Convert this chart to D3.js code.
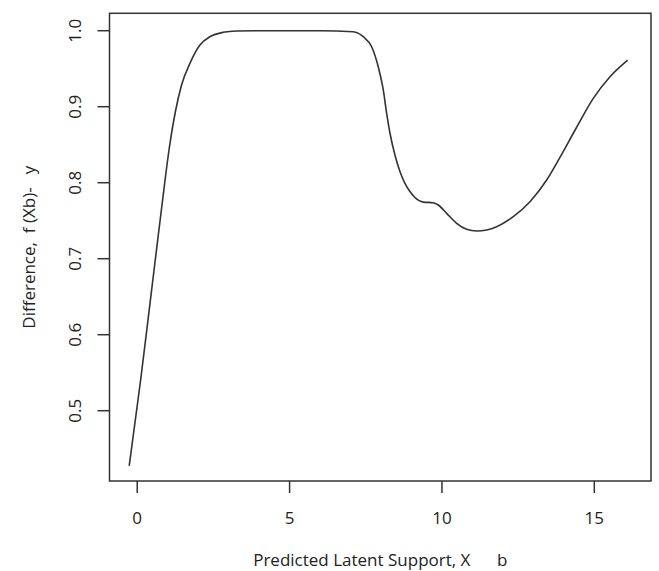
<!DOCTYPE html>
<html>
<head>
<meta charset="utf-8">
<script src="https://cdn.jsdelivr.net/npm/d3@7"></script>
<style>
  body { margin: 0; background: #fff; }
  text { font-family: "Open Sans", "Noto Sans", sans-serif; fill: #222; }
</style>
</head>
<body>
<script>
const width = 659, height = 571;

// curve
const xs = [-0.263, 0.112, 0.433, 0.81, 1.05, 1.25, 1.45, 1.729, 2.057, 2.385, 2.822, 3.262, 4, 5, 6,
  7.089, 7.417, 7.693, 7.909, 8.074, 8.185, 8.293, 8.457, 8.621, 8.785, 8.949, 9.113, 9.386, 9.714, 9.879,
  10.154, 10.482, 10.811, 11.139, 11.467, 11.795, 12.34, 12.888, 13.436, 13.873, 14.397,
  14.966, 15.514, 16.094];
const ys = [0.4273, 0.5404, 0.6457, 0.77, 0.845, 0.893, 0.928, 0.9571, 0.9812, 0.9921, 0.9979, 0.9996, 1.0, 1.0, 1.0,
  0.9987, 0.9921, 0.9789, 0.9526, 0.922, 0.8913, 0.8654, 0.8364, 0.8147, 0.799, 0.7884, 0.7805, 0.7745, 0.7737, 0.7707,
  0.7597, 0.7466, 0.7387, 0.7364, 0.7378, 0.7421, 0.7553, 0.775, 0.8036, 0.8334, 0.8713,
  0.911, 0.9395, 0.9614];
const xTicks = [0, 5, 10, 15];
const yTicks = [0.5, 0.6, 0.7, 0.8, 0.9, 1.0];

const pLeft = 109.5, pRight = 651, pTop = 13.3, pBottom = 481;

const x = d3.scaleLinear().domain([-0.91, 16.86]).range([pLeft, pRight]);
const y = d3.scaleLinear().domain([0.4075, 1.0229]).range([pBottom, pTop]);

const svg = d3.select("body").append("svg")
    .attr("width", width)
    .attr("height", height);

const data = xs.map((d, i) => [d, ys[i]]);

svg.append("path")
    .datum(data)
    .attr("fill", "none")
    .attr("stroke", "#333")
    .attr("stroke-width", 1.6)
    .attr("d", d3.line().x(d => x(d[0])).y(d => y(d[1])).curve(d3.curveMonotoneX));

// box
svg.append("rect")
    .attr("x", pLeft)
    .attr("y", pTop)
    .attr("width", pRight - pLeft)
    .attr("height", pBottom - pTop)
    .attr("fill", "none")
    .attr("stroke", "#333")
    .attr("stroke-width", 1.5);

// x axis
svg.selectAll(".xt")
    .data(xTicks)
    .join("line")
    .attr("x1", d => x(d)).attr("x2", d => x(d))
    .attr("y1", pBottom).attr("y2", pBottom + 12)
    .attr("stroke", "#333").attr("stroke-width", 1.5);

svg.selectAll(".xl")
    .data(xTicks)
    .join("text")
    .attr("x", d => x(d))
    .attr("y", 524)
    .attr("text-anchor", "middle")
    .attr("font-size", 17)
    .text(d => d);

// y axis
svg.selectAll(".yt")
    .data(yTicks)
    .join("line")
    .attr("x1", pLeft - 12).attr("x2", pLeft)
    .attr("y1", d => y(d)).attr("y2", d => y(d))
    .attr("stroke", "#333").attr("stroke-width", 1.5);

svg.selectAll(".yl")
    .data(yTicks)
    .join("text")
    .attr("transform", d => `translate(81,${y(d)}) rotate(-90)`)
    .attr("text-anchor", "middle")
    .attr("font-size", 17)
    .text(d => d.toFixed(1));

svg.append("text")
    .attr("x", (pLeft + pRight) / 2)
    .attr("y", 566)
    .attr("text-anchor", "middle")
    .attr("font-size", 17)
    .style("white-space", "pre")
    .text("Predicted Latent Support, X      b");

svg.append("text")
    .attr("transform", `translate(35,${(pTop + pBottom) / 2}) rotate(-90)`)
    .attr("text-anchor", "middle")
    .attr("font-size", 17)
    .style("white-space", "pre")
    .text("Difference,  f (Xb)-   y");
</script>
</body>
</html>
